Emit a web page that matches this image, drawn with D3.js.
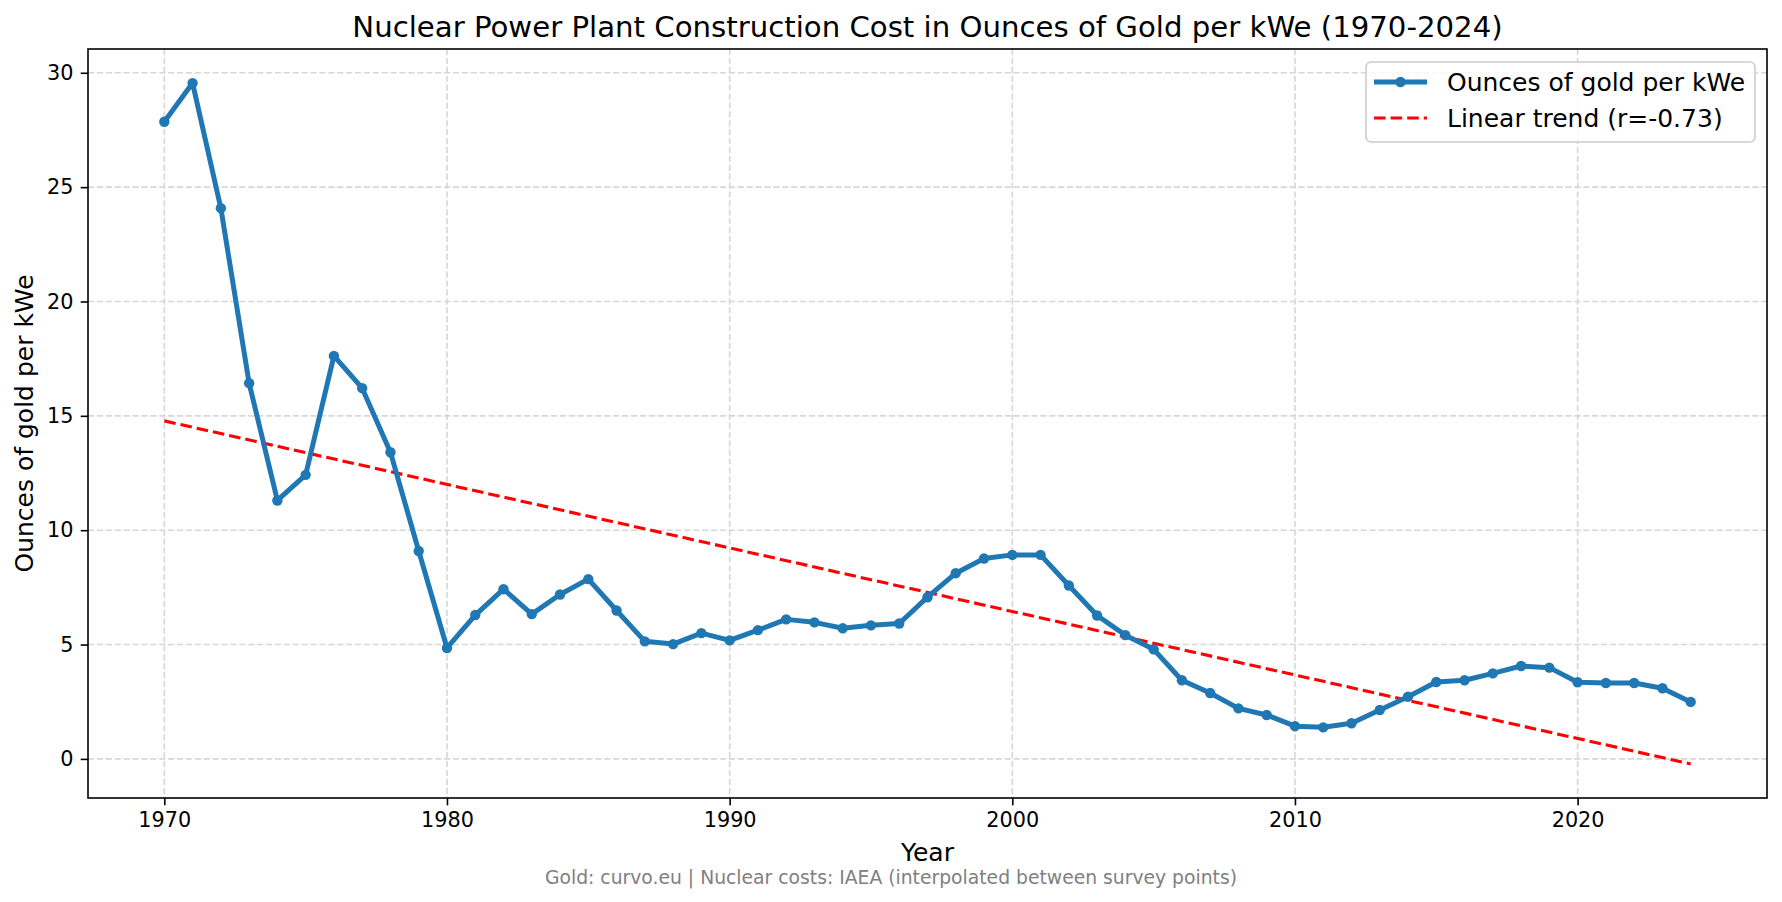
<!DOCTYPE html>
<html>
<head>
<meta charset="utf-8">
<script src="https://cdn.jsdelivr.net/npm/d3@7"></script>
<style>
  body { margin: 0; background: #fff; }
  svg { display: block; font-family: "DejaVu Sans", sans-serif; }
</style>
</head>
<body>
<div id="canvas"></div>
<script>
// values
const years = d3.range(1970, 2025);
const ouncesPerKwe = [
  27.86, 29.55, 24.08, 16.43, 11.30, 12.42, 17.62, 16.21, 13.41, 9.09,
  4.85, 6.29, 7.42, 6.33, 7.19, 7.86, 6.49, 5.14, 5.02, 5.50,
  5.18, 5.63, 6.10, 5.97, 5.71, 5.84, 5.92, 7.07, 8.12, 8.76,
  8.92, 8.92, 7.58, 6.27, 5.41, 4.79, 3.44, 2.88, 2.21, 1.92,
  1.43, 1.38, 1.56, 2.14, 2.72, 3.36, 3.44, 3.74, 4.06, 3.99,
  3.35, 3.32, 3.32, 3.09, 2.49
];
const trendYears = [1970, 2024];
const trendValues = [14.78, -0.22];
const xTicks = [1970, 1980, 1990, 2000, 2010, 2020];
const yTicks = [0, 5, 10, 15, 20, 25, 30];
const seriesLabel = "Ounces of gold per kWe";
const trendLabel = "Linear trend (r=-0.73)";

const width = 1782, height = 902;
const margin = { top: 49, left: 88, bottom: 104, right: 15 };
const iwidth = width - margin.left - margin.right;
const iheight = height - margin.top - margin.bottom;

const svg = d3.select("#canvas").append("svg")
  .attr("width", width)
  .attr("height", height);

const g = svg.append("g").attr("transform", `translate(${margin.left},${margin.top})`);

const x = d3.scaleLinear().domain([1967.3, 2026.7]).range([0, iwidth]);
const y = d3.scaleLinear().domain([-1.71, 31.04]).range([iheight, 0]);

// grid
g.append("g").selectAll("line").data(xTicks).enter().append("line")
  .attr("x1", d => x(d)).attr("x2", d => x(d))
  .attr("y1", 0).attr("y2", iheight)
  .attr("stroke", "#d7d7d7").attr("stroke-width", 1.6)
  .attr("stroke-dasharray", "6.2,2.7");
g.append("g").selectAll("line").data(yTicks).enter().append("line")
  .attr("y1", d => y(d)).attr("y2", d => y(d))
  .attr("x1", 0).attr("x2", iwidth)
  .attr("stroke", "#d7d7d7").attr("stroke-width", 1.6)
  .attr("stroke-dasharray", "6.2,2.7");

// axes
const xAxis = g.append("g")
  .attr("transform", `translate(0,${iheight})`)
  .call(d3.axisBottom(x).tickValues(xTicks).tickFormat(d3.format("d")).tickSize(7.3).tickPadding(7.3));
const yAxis = g.append("g")
  .call(d3.axisLeft(y).tickValues(yTicks).tickSize(7.3).tickPadding(7.3));
[xAxis, yAxis].forEach(a => {
  a.select(".domain").remove();
  a.selectAll(".tick line").attr("stroke", "#000").attr("stroke-width", 1.6);
  a.selectAll(".tick text").attr("fill", "#000").style("font-size", "20.8px")
    .style("font-family", "DejaVu Sans");
});

// trend line
const line = d3.line().x(d => x(d[0])).y(d => y(d[1]));
g.append("path")
  .datum(trendYears.map((yr, i) => [yr, trendValues[i]]))
  .attr("d", line)
  .attr("fill", "none")
  .attr("stroke", "#ff0000")
  .attr("stroke-width", 3.1)
  .attr("stroke-dasharray", "11.6,5");

// main series
const pts = years.map((yr, i) => [yr, ouncesPerKwe[i]]);
g.append("path")
  .datum(pts)
  .attr("d", line)
  .attr("fill", "none")
  .attr("stroke", "#1f77b4")
  .attr("stroke-width", 5)
  .attr("stroke-linejoin", "round");
g.append("g").selectAll("circle").data(pts).enter().append("circle")
  .attr("cx", d => x(d[0]))
  .attr("cy", d => y(d[1]))
  .attr("r", 5.2)
  .attr("fill", "#1f77b4");

// frame
g.append("rect")
  .attr("width", iwidth).attr("height", iheight)
  .attr("fill", "none").attr("stroke", "#000").attr("stroke-width", 1.6);

// legend
const lg = g.append("g").attr("transform", `translate(${1366 - margin.left},${62 - margin.top})`);
lg.append("rect")
  .attr("width", 389).attr("height", 80).attr("rx", 5)
  .attr("fill", "rgba(255,255,255,0.8)").attr("stroke", "#cccccc").attr("stroke-width", 1.6);
lg.append("line").attr("x1", 8).attr("x2", 61).attr("y1", 20).attr("y2", 20)
  .attr("stroke", "#1f77b4").attr("stroke-width", 5);
lg.append("circle").attr("cx", 34.5).attr("cy", 20).attr("r", 5.2).attr("fill", "#1f77b4");
lg.append("line").attr("x1", 8).attr("x2", 61).attr("y1", 56).attr("y2", 56)
  .attr("stroke", "#ff0000").attr("stroke-width", 3.1).attr("stroke-dasharray", "11.6,5");
lg.selectAll("text").data([seriesLabel, trendLabel]).enter().append("text")
  .attr("x", 81).attr("y", (d, i) => 20 + i * 36)
  .attr("dy", "0.36em")
  .style("font-size", "25px")
  .text(d => d);

// titles
svg.append("text")
  .attr("x", margin.left + iwidth / 2).attr("y", 37)
  .attr("text-anchor", "middle")
  .style("font-size", "29.2px")
  .text("Nuclear Power Plant Construction Cost in Ounces of Gold per kWe (1970-2024)");
svg.append("text")
  .attr("x", margin.left + iwidth / 2).attr("y", 861)
  .attr("text-anchor", "middle")
  .style("font-size", "25px")
  .text("Year");
svg.append("text")
  .attr("transform", `translate(33,${margin.top + iheight / 2}) rotate(-90)`)
  .attr("text-anchor", "middle")
  .style("font-size", "25px")
  .text("Ounces of gold per kWe");
svg.append("text")
  .attr("x", width / 2).attr("y", 884)
  .attr("text-anchor", "middle")
  .attr("fill", "#808080")
  .style("font-size", "18.75px")
  .text("Gold: curvo.eu | Nuclear costs: IAEA (interpolated between survey points)");
</script>
</body>
</html>
